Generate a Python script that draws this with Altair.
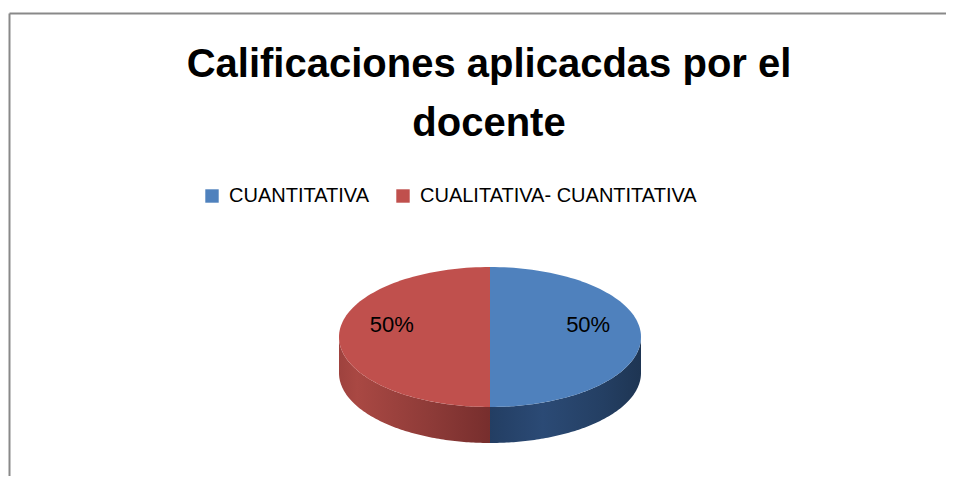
import altair as alt
import pandas as pd

# ---- data -------------------------------------------------------------
categories = ["CUANTITATIVA", "CUALITATIVA- CUANTITATIVA"]
values = [50, 50]
top_colors = ["#4F81BD", "#C0504D"]
title_lines = ["Calificaciones aplicacdas por el", "docente"]

df = pd.DataFrame({"categoria": categories, "valor": values,
                   "orden": list(range(len(categories)))})

# ---- layout constants (pixels) -----------------------------------------
W, H = 938, 468          # whole drawing area
CX, CY = 482, 329        # centre of the pie's top face inside the area
A, B, D = 151, 70, 36    # horizontal radius, vertical radius, depth
NSTEP = 100

x_scale = alt.Scale(domain=[-CX, W - CX], nice=False, zero=False)
y_scale = alt.Scale(domain=[-(H - CY), CY], nice=False, zero=False)
X = alt.X("px:Q", scale=x_scale, axis=None)
Y = alt.Y("py:Q", scale=y_scale, axis=None)

base = alt.Chart(df).transform_joinaggregate(
    total="sum(valor)"
).transform_window(
    cum="sum(valor)", sort=[alt.SortField("orden")], frame=[None, 0]
).transform_calculate(
    t0="2*PI*(datum.cum - datum.valor)/datum.total",
    t1="2*PI*datum.cum/datum.total",
)

# ---- side walls (3D depth) ---------------------------------------------
side_fills = [
    alt.LinearGradient(gradient="linear", x1=0, x2=1, y1=0, y2=0, stops=[
        alt.GradientStop(color="#233E63", offset=0),
        alt.GradientStop(color="#2B4A75", offset=0.35),
        alt.GradientStop(color="#243F63", offset=0.75),
        alt.GradientStop(color="#1E3553", offset=1),
    ]),
    alt.LinearGradient(gradient="linear", x1=0, x2=1, y1=0, y2=0, stops=[
        alt.GradientStop(color="#9E423E", offset=0),
        alt.GradientStop(color="#A94843", offset=0.12),
        alt.GradientStop(color="#8E3B38", offset=0.6),
        alt.GradientStop(color="#772E2D", offset=1),
    ]),
]

sides = []
for i, fill in enumerate(side_fills):
    s = base.transform_filter(
        f"datum.orden == {i}"
    ).transform_calculate(
        lo="max(datum.t0, PI/2)",
        hi="min(datum.t1, 3*PI/2)",
    ).transform_filter(
        "datum.hi > datum.lo"
    ).transform_calculate(
        step=f"sequence(0, {2 * NSTEP + 2})"
    ).transform_flatten(["step"]).transform_calculate(
        u=f"datum.step <= {NSTEP} ? datum.step/{NSTEP} : ({2 * NSTEP + 1} - datum.step)/{NSTEP}",
        ang="datum.lo + (datum.hi - datum.lo)*datum.u",
        px=f"{A}*sin(datum.ang)",
        py=f"{B}*cos(datum.ang) - (datum.step > {NSTEP} ? {D} : 0)",
    ).mark_line(filled=True, fill=fill, strokeOpacity=0).encode(
        x=X, y=Y, order="step:Q"
    )
    sides.append(s)

# ---- top face ------------------------------------------------------------
top = base.transform_calculate(
    step=f"sequence(0, {NSTEP + 2})"
).transform_flatten(["step"]).transform_calculate(
    ang=f"datum.t0 + (datum.t1 - datum.t0)*min(datum.step, {NSTEP})/{NSTEP}",
    px=f"datum.step > {NSTEP} ? 0 : {A}*sin(datum.ang)",
    py=f"datum.step > {NSTEP} ? 0 : {B}*cos(datum.ang)",
).mark_line(filled=True, strokeOpacity=0).encode(
    x=X, y=Y, order="step:Q",
    color=alt.Color(
        "categoria:N",
        scale=alt.Scale(domain=categories, range=top_colors),
        legend=alt.Legend(
            title=None, orient="none", direction="horizontal",
            legendX=194, legendY=178,
            symbolType="square", symbolSize=180, symbolStrokeWidth=0,
            labelFont="Liberation Sans", labelFontSize=20,
            labelColor="black", labelOffset=7, columnPadding=24,
            labelLimit=400,
        ),
    ),
)

# ---- percentage labels ----------------------------------------------------
labels = base.transform_calculate(
    mid="(datum.t0 + datum.t1)/2",
    px=f"0.65*{A}*sin(datum.mid)",
    py=f"0.65*{B}*cos(datum.mid)",
    pct="format(datum.valor/datum.total, '.0%')",
).mark_text(font="Liberation Sans", fontSize=22, color="black",
            baseline="middle", dy=-12).encode(x=X, y=Y, text="pct:N")

# ---- chart-area border (top and left edges are visible) ------------------
one = alt.Chart(pd.DataFrame({"k": [0]}))
border_left = one.mark_rule(color="#898989", strokeWidth=2).encode(
    x=alt.value(1.5), y=alt.value(5.5), y2=alt.value(H))
border_top = one.mark_rule(color="#898989", strokeWidth=2).encode(
    x=alt.value(1.5), x2=alt.value(W), y=alt.value(5.5))

chart = alt.layer(*sides, top, labels, border_left, border_top).properties(
    width=W, height=H,
    autosize=alt.AutoSizeParams(type="none"),
    padding=0,
    background="white",
    title=alt.Title(title_lines, font="Liberation Sans", fontSize=40,
                    fontWeight="bold", color="black", anchor="middle",
                    lineHeight=59, offset=0, dy=136, dx=12),
).configure_view(stroke=None)

chart.save("out.html", embed_options={"renderer": "svg", "actions": False})
